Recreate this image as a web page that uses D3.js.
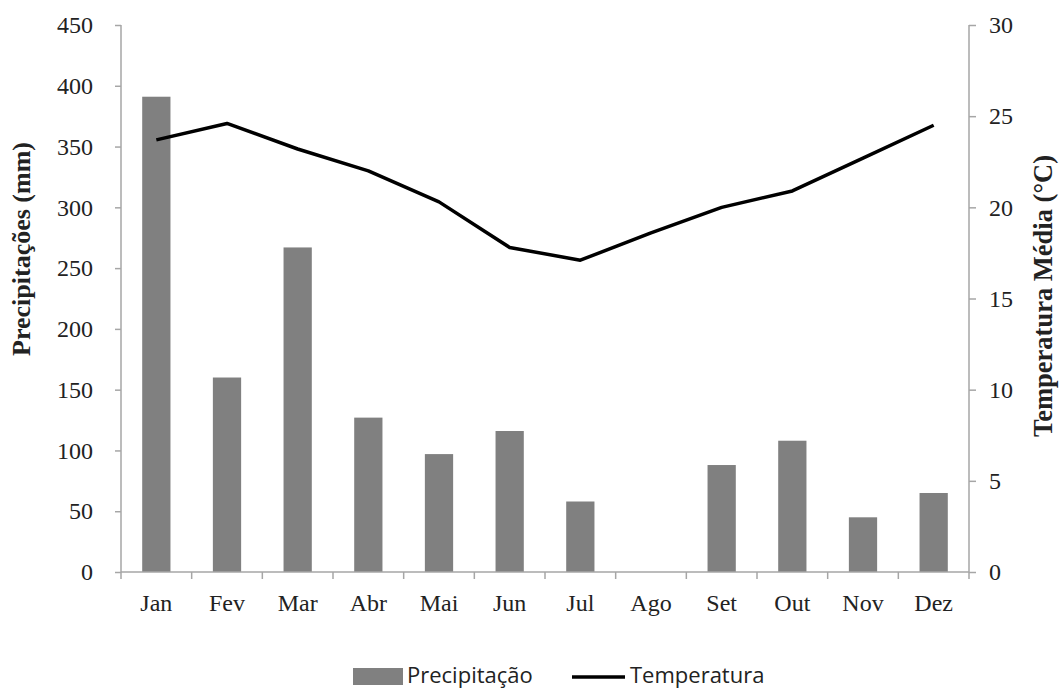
<!DOCTYPE html>
<html>
<head>
<meta charset="utf-8">
<script src="https://cdn.jsdelivr.net/npm/d3@7"></script>
<style>
  body { margin: 0; background: #fff; overflow: hidden; }
  .tick text { font-family: "Liberation Serif", "Times New Roman", serif; font-size: 24px; fill: #222; }
</style>
</head>
<body>
<div id="chart"></div>
<script>
// Data
var months = ["Jan", "Fev", "Mar", "Abr", "Mai", "Jun", "Jul", "Ago", "Set", "Out", "Nov", "Dez"];
var precipitation = [391, 160, 267, 127, 97, 116, 58, 0, 88, 108, 45, 65];
var temperature = [23.7, 24.6, 23.2, 22.0, 20.3, 17.8, 17.1, 18.6, 20.0, 20.9, 22.7, 24.5];
var precipTicks = [0, 50, 100, 150, 200, 250, 300, 350, 400, 450];
var tempTicks = [0, 5, 10, 15, 20, 25, 30];

var width = 1060, height = 690;
var plotLeft = 121, plotRight = 969, plotTop = 25, plotBottom = 572;
var axisColor = "#a6a6a6";

var svg = d3.select("#chart").append("svg")
  .attr("width", width)
  .attr("height", height)
  .style("display", "block");

var x = d3.scaleBand().domain(months).range([plotLeft, plotRight]).paddingInner(0.6).paddingOuter(0.3);
var xEdge = d3.scaleBand().domain(months).range([plotLeft, plotRight]);
var yP = d3.scaleLinear().domain([0, 450]).range([plotBottom, plotTop]);
var yT = d3.scaleLinear().domain([0, 30]).range([plotBottom, plotTop]);

// Bars
svg.selectAll("rect.bar")
  .data(precipitation)
  .enter().append("rect")
  .attr("class", "bar")
  .attr("x", function(d, i) { return x(months[i]); })
  .attr("width", x.bandwidth())
  .attr("y", function(d) { return yP(d); })
  .attr("height", function(d) { return yP(0) - yP(d); })
  .attr("fill", "#808080");

// Left axis
var gL = svg.append("g")
  .attr("transform", "translate(" + plotLeft + ",0)")
  .call(d3.axisLeft(yP).tickValues(precipTicks).tickSize(6).tickPadding(22));
// Right axis
var gR = svg.append("g")
  .attr("transform", "translate(" + plotRight + ",0)")
  .call(d3.axisRight(yT).tickValues(tempTicks).tickSize(7).tickPadding(13));
// X axis
var gX = svg.append("g")
  .attr("transform", "translate(0," + plotBottom + ")")
  .call(d3.axisBottom(xEdge).tickSize(0).tickPadding(22));

[gL, gR, gX].forEach(function(g) {
  g.selectAll("path.domain").attr("stroke", axisColor).attr("stroke-width", 1.5);
  g.selectAll(".tick line").attr("stroke", axisColor).attr("stroke-width", 1.5);
});
gL.select("path.domain").attr("d", "M0," + plotTop + "V" + plotBottom);
gR.select("path.domain").attr("d", "M0," + plotTop + "V" + plotBottom);
gX.select("path.domain").attr("d", "M" + plotLeft + ",0H" + plotRight);

// x ticks at category boundaries
var edges = months.map(function(m) { return xEdge(m); }).concat([plotRight]);
gX.selectAll("line.edge")
  .data(edges)
  .enter().append("line")
  .attr("class", "edge")
  .attr("x1", function(d) { return d; })
  .attr("x2", function(d) { return d; })
  .attr("y1", 0).attr("y2", 7)
  .attr("stroke", axisColor).attr("stroke-width", 1.5);

// Temperature line
var line = d3.line()
  .x(function(d, i) { return xEdge(months[i]) + xEdge.bandwidth() / 2; })
  .y(function(d) { return yT(d); });
svg.append("path")
  .datum(temperature)
  .attr("d", line)
  .attr("fill", "none")
  .attr("stroke", "#000")
  .attr("stroke-width", 3.5)
  .attr("stroke-linejoin", "round");

// Axis titles
svg.append("text")
  .attr("transform", "translate(30,249) rotate(-90)")
  .attr("text-anchor", "middle")
  .style("font-family", "Liberation Serif, Times New Roman, serif")
  .style("font-size", "26px")
  .style("font-weight", "bold")
  .attr("fill", "#222")
  .text("Precipitações (mm)");

svg.append("text")
  .attr("transform", "translate(1052,296) rotate(-90)")
  .attr("text-anchor", "middle")
  .style("font-family", "Liberation Serif, Times New Roman, serif")
  .style("font-size", "26.5px")
  .style("font-weight", "bold")
  .attr("fill", "#222")
  .text("Temperatura Média (°C)");

// Legend
var legend = svg.append("g").attr("transform", "translate(0,676)");
legend.append("rect")
  .attr("x", 353).attr("y", -8).attr("width", 50).attr("height", 17)
  .attr("fill", "#808080");
legend.append("text")
  .attr("x", 407).attr("y", 7)
  .style("font-family", "Open Sans, Liberation Sans, sans-serif")
  .style("font-size", "22px")
  .attr("fill", "#222")
  .text("Precipitação");
legend.append("line")
  .attr("x1", 572).attr("x2", 625).attr("y1", 1).attr("y2", 1)
  .attr("stroke", "#000").attr("stroke-width", 3.5);
legend.append("text")
  .attr("x", 630).attr("y", 7)
  .style("font-family", "Open Sans, Liberation Sans, sans-serif")
  .style("font-size", "22px")
  .attr("fill", "#222")
  .text("Temperatura");
</script>
</body>
</html>
